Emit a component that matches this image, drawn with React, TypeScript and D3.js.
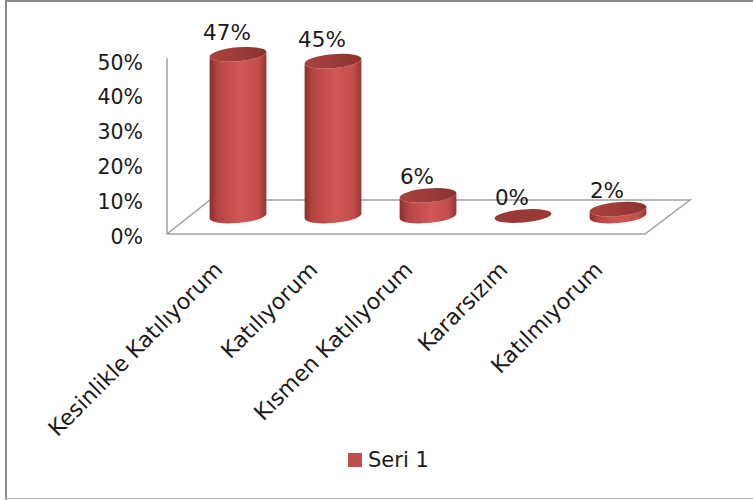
import React from "react";
import * as d3 from "d3";

const categories = ["Kesinlikle Katılıyorum", "Katılıyorum", "Kısmen Katılıyorum", "Kararsızım", "Katılmıyorum"];
const values = [0.47, 0.45, 0.06, 0.0, 0.02];
const yTicks = [0, 0.1, 0.2, 0.3, 0.4, 0.5];
const seriesName = "Seri 1";

const FONT = "'DejaVu Sans', sans-serif";
const TEXT = "#1a1a1a";

export default function App() {
  const W = 753;
  const H = 500;
  const x = d3
    .scaleBand<string>()
    .domain(categories)
    .range([190.5, 665.5])
    .paddingInner(0.4)
    .paddingOuter(0.2);
  const bw = x.bandwidth();
  const yAxis = d3.scaleLinear().domain([0, 0.5]).range([236, 62]);
  const yBar = d3.scaleLinear().domain([0, 0.5]).range([216, 44]);
  const yLab = d3.scaleLinear().domain([0, 0.5]).range([205, 29.5]);
  const fmt = d3.format(".0%");

  const rx = bw / 2;
  const ry = 7;
  const tilt = -5;
  const ex = rx * Math.cos((tilt * Math.PI) / 180);
  const ey = rx * Math.sin((tilt * Math.PI) / 180);

  const floorFrontY = 234;
  const floorBackY = 200;
  const floorPts: [number, number][] = [
    [167, floorFrontY],
    [210, floorBackY],
    [690, floorBackY],
    [645, floorFrontY],
  ];
  const floorPath = d3.line()(floorPts.concat([floorPts[0]])) as string;

  return (
    <svg
      width={W}
      height={H}
      style={{ position: "absolute", left: 0, top: 0, background: "#fff" }}
    >
      <defs>
        <linearGradient id="body" x1="0" x2="1" y1="0" y2="0">
          <stop offset="0" stopColor="#8c2f2c" />
          <stop offset="0.15" stopColor="#b54542" />
          <stop offset="0.55" stopColor="#d15855" />
          <stop offset="0.85" stopColor="#c24e4b" />
          <stop offset="1" stopColor="#983633" />
        </linearGradient>
        <linearGradient id="top" x1="0" x2="1" y1="0" y2="0">
          <stop offset="0" stopColor="#a8423f" />
          <stop offset="0.5" stopColor="#9c3c39" />
          <stop offset="1" stopColor="#8b3330" />
        </linearGradient>
      </defs>
      <rect x={0} y={0} width={W} height={H} fill="#fff" />
      {/* frame */}
      <line x1={6} x2={6} y1={0} y2={H} stroke="#8a8a8a" strokeWidth={2} />
      <line x1={5} x2={W} y1={1} y2={1} stroke="#8a8a8a" strokeWidth={2} />
      <line x1={5} x2={W} y1={498.5} y2={498.5} stroke="#b3b3b3" strokeWidth={1} />

      {/* floor + axis line */}
      <path d={floorPath} fill="#fff" stroke="#a0a0a0" strokeWidth={1.5} />
      <line x1={167} x2={167} y1={58} y2={floorFrontY} stroke="#a0a0a0" strokeWidth={1.5} />

      {/* y tick labels */}
      {yTicks.map((t) => (
        <text
          key={t}
          x={143}
          y={yAxis(t) + 7.5}
          textAnchor="end"
          fontFamily={FONT}
          fontSize={20.5}
          fill={TEXT}
        >
          {fmt(t)}
        </text>
      ))}

      {/* cylinders */}
      {categories.map((c, i) => {
        const v = values[i];
        const cx = (x(c) as number) + bw / 2;
        const yb = yBar(0);
        const yt = yBar(v);
        if (v <= 0) {
          return (
            <ellipse
              key={c}
              cx={cx}
              cy={yb}
              rx={rx}
              ry={ry - 0.5}
              fill="#9a3835"
              transform={`rotate(${tilt} ${cx} ${yb})`}
            />
          );
        }
        const d =
          `M${cx - ex},${yt - ey} L${cx - ex},${yb - ey} ` +
          `A${rx},${ry} ${tilt} 0 0 ${cx + ex},${yb + ey} ` +
          `L${cx + ex},${yt + ey} ` +
          `A${rx},${ry} ${tilt} 0 1 ${cx - ex},${yt - ey} Z`;
        return (
          <g key={c}>
            <path d={d} fill="url(#body)" />
            <ellipse
              cx={cx}
              cy={yt}
              rx={rx}
              ry={ry}
              fill="url(#top)"
              transform={`rotate(${tilt} ${cx} ${yt})`}
            />
          </g>
        );
      })}

      {/* data labels */}
      {categories.map((c, i) => (
        <text
          key={c}
          x={(x(c) as number) + bw / 2 - 11}
          y={yLab(values[i])}
          textAnchor="middle"
          fontFamily={FONT}
          fontSize={21.5}
          fill={TEXT}
        >
          {fmt(values[i])}
        </text>
      ))}

      {/* category labels */}
      {categories.map((c) => {
        const px = (x(c) as number) + bw / 2 - 14;
        const py = 271;
        return (
          <text
            key={c}
            x={px}
            y={py}
            textAnchor="end"
            fontFamily={FONT}
            fontSize={22}
            fill={TEXT}
            transform={`rotate(-45 ${px} ${py})`}
          >
            {c}
          </text>
        );
      })}

      {/* legend */}
      <rect x={348} y={453} width={14} height={14} fill="#c0504d" />
      <text x={368} y={467} fontFamily={FONT} fontSize={21} fill={TEXT}>
        {seriesName}
      </text>
    </svg>
  );
}
